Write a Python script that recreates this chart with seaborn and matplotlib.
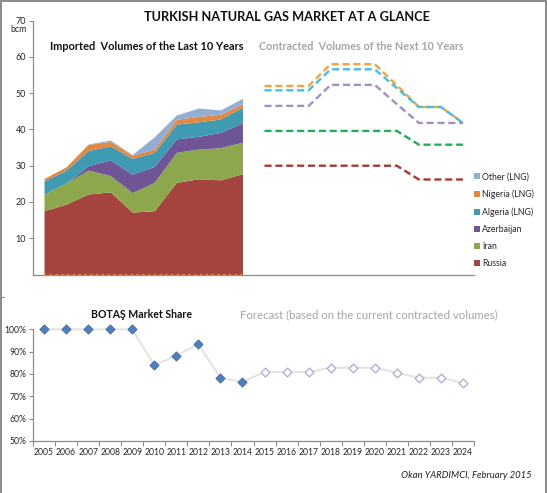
import numpy as np
import pandas as pd
import matplotlib
matplotlib.use("Agg")
import matplotlib.pyplot as plt
import seaborn as sns
from matplotlib.lines import Line2D

# ---------------- data ----------------
hist_years = [2005, 2006, 2007, 2008, 2009, 2010, 2011, 2012, 2013, 2014]
fcst_years = [2015, 2016, 2017, 2018, 2019, 2020, 2021, 2022, 2023, 2024]

# imported volumes (bcm), stacked
imp_russia = [17.6, 19.4, 22.2, 22.8, 17.2, 17.6, 25.4, 26.4, 26.1, 27.8]
imp_iran = [4.6, 5.9, 6.6, 4.5, 5.4, 7.8, 8.3, 8.2, 8.9, 8.7]
imp_azerbaijan = [0.0, 0.0, 1.2, 4.3, 5.1, 4.4, 3.7, 3.5, 4.2, 5.3]
imp_algeria = [3.6, 3.5, 4.2, 3.9, 4.3, 3.9, 4.1, 4.0, 3.7, 4.3]
imp_nigeria = [0.7, 0.9, 1.7, 1.2, 0.9, 0.9, 1.3, 1.5, 1.3, 1.0]
imp_other = [0.0, 0.0, 0.1, 0.4, 0.2, 3.4, 1.2, 2.3, 1.2, 1.5]
imp_baseline = [0, 0, 0, 0, 0, 0, 0, 0, 0, 0]

# contracted volumes (bcm), per supplier
con_russia = [30.0, 30.0, 30.0, 30.0, 30.0, 30.0, 30.0, 26.2, 26.2, 26.2]
con_iran = [9.6, 9.6, 9.6, 9.6, 9.6, 9.6, 9.6, 9.6, 9.6, 9.6]
con_azerbaijan = [6.9, 6.9, 6.9, 12.7, 12.7, 12.7, 7.4, 6.0, 6.0, 6.0]
con_algeria = [4.3, 4.3, 4.3, 4.3, 4.3, 4.3, 4.4, 4.4, 4.4, 0.0]
con_nigeria = [1.2, 1.2, 1.2, 1.4, 1.4, 1.4, 0.8, 0.0, 0.0, 0.0]

# BOTAS market share (%)
share_hist = [100, 100, 100, 100, 100, 83.9, 88.2, 93.3, 78.3, 76.4]
share_fcst = [80.9, 80.9, 80.9, 82.8, 82.8, 82.8, 80.6, 78.3, 78.3, 76.0]

legend_labels = ["Other (LNG)", "Nigeria (LNG)", "Algeria (LNG)", "Azerbaijan", "Iran", "Russia"]

# ---------------- style ----------------
sns.set_theme(style="white")
plt.rcParams["font.family"] = ["Lato", "DejaVu Sans"]

W, H = 547, 493
fig = plt.figure(figsize=(W / 100, H / 100), dpi=100)
fig.patch.set_facecolor("white")

def fx(px):
    return px / W

def fy(py):
    return 1 - py / H

area_colors = {
    "Russia": "#A5443F",
    "Iran": "#8DA84C",
    "Azerbaijan": "#6F5596",
    "Algeria (LNG)": "#3E9BB1",
    "Nigeria (LNG)": "#E5883F",
    "Other (LNG)": "#93AED5",
}
line_colors = {
    "Russia": "#AA3A2E",
    "Iran": "#1DB055",
    "Azerbaijan": "#A58DC0",
    "Algeria (LNG)": "#43BFE6",
    "Nigeria (LNG)": "#F2A341",
}
spine_col = "#8C8C8C"
text_col = "#262626"
grey_txt = "#A6A6A6"

x0, x1 = 33, 474
# ---------------- top chart ----------------
ax = fig.add_axes([fx(x0), fy(274.5), fx(x1) - fx(x0), fy(20.7) - fy(274.5)])
xh = [y - hist_years[0] for y in hist_years]
xf = [y - hist_years[0] for y in fcst_years]

ax.stackplot(xh, imp_russia, imp_iran, imp_azerbaijan, imp_algeria, imp_nigeria, imp_other,
             colors=[area_colors[k] for k in ["Russia", "Iran", "Azerbaijan", "Algeria (LNG)",
                                              "Nigeria (LNG)", "Other (LNG)"]],
             linewidth=0)
ax.plot(xh, imp_baseline, color="#E5883F", linestyle=(0, (1.0, 1.6)), lw=1.6, clip_on=False, zorder=5)

cum = np.zeros(len(fcst_years))
con_series = [("Russia", con_russia), ("Iran", con_iran), ("Azerbaijan", con_azerbaijan),
              ("Algeria (LNG)", con_algeria), ("Nigeria (LNG)", con_nigeria)]
rows = []
for name, vals in con_series:
    cum = cum + np.array(vals)
    for xx, v in zip(xf, cum):
        rows.append({"x": xx, "bcm": v, "series": name})
df_con = pd.DataFrame(rows)
for name, _ in reversed(con_series):
    sub = df_con[df_con.series == name]
    sns.lineplot(data=sub, x="x", y="bcm", ax=ax, color=line_colors[name], lw=1.7,
                 linestyle=(0, (3.0, 1.6)), legend=False)

ax.set_xlim(-0.5, 19.5)
ax.set_ylim(0, 70)
ax.set_yticks([10, 20, 30, 40, 50, 60, 70])
ax.set_xticks([])
ax.set_xlabel("")
ax.set_ylabel("")
for s in ["top", "right"]:
    ax.spines[s].set_visible(False)
for s in ["left", "bottom"]:
    ax.spines[s].set_color(spine_col)
    ax.spines[s].set_linewidth(0.9)
ax.tick_params(axis="y", which="major", left=True, length=3, width=0.8, color=spine_col,
               labelsize=6.5, labelcolor=text_col, pad=2)

handles = [Line2D([], [], marker="s", linestyle="none", markersize=4.2,
                  markerfacecolor=area_colors[k], markeredgewidth=0) for k in legend_labels]
fig.legend(handles, legend_labels, loc="upper left", bbox_to_anchor=(fx(474), fy(172.5)),
           frameon=False, fontsize=6.3, handlelength=0.6, handletextpad=0.3,
           labelspacing=0.92, borderaxespad=0, borderpad=0, labelcolor=text_col)

fig.text(fx(10), fy(30), "bcm", fontsize=6.3, color=text_col, va="center", ha="left")
fig.text(fx(287), fy(17), "TURKISH NATURAL GAS MARKET AT A GLANCE", fontsize=9.2,
         fontweight="bold", color="#111111", ha="center", va="center")
fig.text(fx(147), fy(46), "Imported  Volumes of the Last 10 Years", fontsize=7.9,
         fontweight="bold", color="#111111", ha="center", va="center")
fig.text(fx(361), fy(46), "Contracted  Volumes of the Next 10 Years", fontsize=7.85,
         fontweight="bold", color=grey_txt, ha="center", va="center")

# ---------------- bottom chart ----------------
bx = fig.add_axes([fx(x0), fy(441), fx(x1) - fx(x0), fy(329.3) - fy(441)])
all_x = xh + xf
all_share = share_hist + share_fcst
df_share = pd.DataFrame({"x": all_x, "share": all_share})
sns.lineplot(data=df_share, x="x", y="share", ax=bx, color="#E4E4E4", lw=1.5, legend=False)
for ln in bx.lines:
    ln.set_clip_on(False)
sns.scatterplot(x=xh, y=share_hist, ax=bx, marker="D", s=22, color="#4F7EBD",
                edgecolor="#3F6AA6", linewidth=0.6, clip_on=False, zorder=5, legend=False)
sns.scatterplot(x=xf, y=share_fcst, ax=bx, marker="D", s=20, color="white",
                edgecolor="#B5A6CF", linewidth=0.9, clip_on=False, zorder=5, legend=False)

bx.set_xlim(-0.5, 19.5)
bx.set_ylim(50, 100)
bx.set_yticks([50, 60, 70, 80, 90, 100])
bx.set_yticklabels([f"{v}%" for v in [50, 60, 70, 80, 90, 100]])
bx.set_xticks(all_x)
bx.set_xticklabels([str(y) for y in hist_years + fcst_years])
bx.set_xticks(np.arange(-0.5, 20, 1.0), minor=True)
bx.set_xlabel("")
bx.set_ylabel("")
for s in ["top", "right"]:
    bx.spines[s].set_visible(False)
for s in ["left", "bottom"]:
    bx.spines[s].set_color(spine_col)
    bx.spines[s].set_linewidth(0.9)
bx.tick_params(axis="y", left=True, length=3, width=0.8, color=spine_col,
               labelsize=6.2, labelcolor=text_col, pad=2)
bx.tick_params(axis="x", which="major", bottom=False, length=0, labelsize=6.2,
               labelcolor=text_col, pad=5)
bx.tick_params(axis="x", which="minor", bottom=True, length=3.5, width=0.8, color=spine_col)

fig.text(fx(142), fy(315), "BOTAŞ Market Share", fontsize=7.6, fontweight="bold",
         color="#111111", ha="center", va="center")
fig.text(fx(369), fy(315), "Forecast (based on the current contracted volumes)", fontsize=8.2,
         color=grey_txt, ha="center", va="center")
fig.text(fx(532), fy(475), "Okan YARDIMCI, February 2015", fontsize=6.8, style="italic",
         color="#222222", ha="right", va="center")

# ---------------- frame ----------------
fcol = "#8A8A8A"
fig.add_artist(Line2D([fx(1), fx(1)], [0, fy(1)], color=fcol, lw=1.4))
fig.add_artist(Line2D([fx(1), fx(545.5)], [fy(1), fy(1)], color=fcol, lw=1.4))
fig.add_artist(Line2D([fx(545.5), fx(545.5)], [0, fy(1)], color=fcol, lw=1.4))
fig.add_artist(Line2D([fx(0), fx(4)], [fy(297), fy(297)], color=fcol, lw=0.8))

fig.savefig("out.png", dpi=100)
